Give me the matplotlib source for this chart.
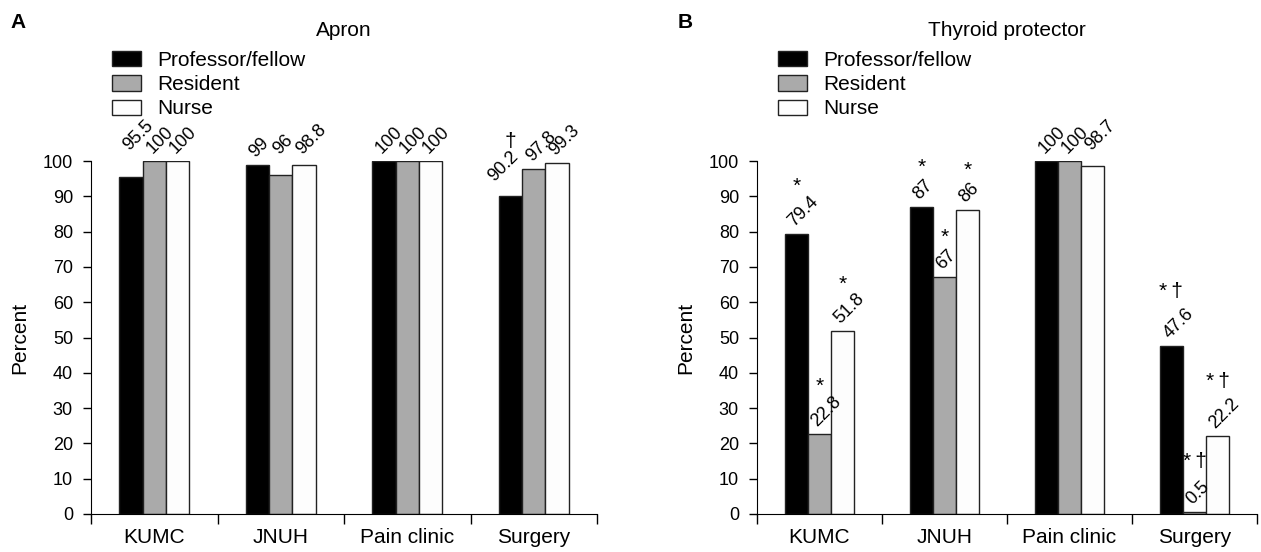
import numpy as np
import matplotlib
matplotlib.use("Agg")
import matplotlib.pyplot as plt
from matplotlib.patches import Patch

plt.rcParams["font.family"] = ["Liberation Sans", "DejaVu Sans"]

# =========================
# DATA
# =========================

sites = ["KUMC", "JNUH", "Pain clinic", "Surgery"]
groups = ["Professor/fellow", "Resident", "Nurse"]

apron_prof = [95.5, 99, 100, 90.2]
apron_res = [100, 96, 100, 97.8]
apron_nurse = [100, 98.8, 100, 99.3]
apron_marks_prof = ["", "", "", "\u2020"]
apron_marks_res = ["", "", "", ""]
apron_marks_nurse = ["", "", "", ""]

thyroid_prof = [79.4, 87, 100, 47.6]
thyroid_res = [22.8, 67, 100, 0.5]
thyroid_nurse = [51.8, 86, 98.7, 22.2]
thyroid_marks_prof = ["*", "*", "", "*\u2009\u2020"]
thyroid_marks_res = ["*", "*", "", "*\u2009\u2020"]
thyroid_marks_nurse = ["*", "*", "", "*\u2009\u2020"]

colors = ["#000000", "#aaaaaa", "#fdfdfd"]
bar_w = 0.185
px = 72 / 100  # points per pixel


def fmt(v):
    return ("%g" % v)


def draw_panel(ax, series, marks, title, letter, letter_x):
    x = np.arange(len(sites)) + 0.5
    data = np.array(series)
    for i, (vals, mk) in enumerate(zip(series, marks)):
        xs = x + (i - 1) * bar_w
        ax.bar(xs, vals, width=bar_w, color=colors[i],
               edgecolor="#222222", linewidth=1.0, zorder=2)
        for j, (xx, v, m) in enumerate(zip(xs, vals, mk)):
            lab = fmt(v)
            col = data[:, j]
            # labels of a tight group sit at the level of the tallest bar
            base = col.max() if col.max() - col.min() < 5 else v
            dx, dy = -2, 7
            if base > v:
                dy = 10
            # first bar beaten by its neighbour: label moved aside
            if i == 0 and col[1] - v > 5:
                dx, dy = -16, 14
            ax.annotate(lab, (xx, base), xytext=(dx * px, dy * px),
                        textcoords="offset points", rotation=45,
                        rotation_mode="anchor", ha="left", va="baseline",
                        fontsize=13, annotation_clip=False, zorder=4)
            if m:
                if m == "*":
                    off = 33 + 3.5 * len(lab)
                else:
                    off = 40 + 3.5 * len(lab)
                ax.annotate(m, (xx, v), xytext=(0, off * px),
                            textcoords="offset points", ha="center",
                            va="center", fontsize=15,
                            annotation_clip=False, zorder=4)

    ax.set_xlim(0, len(sites))
    ax.set_ylim(0, 100)
    ax.set_yticks(np.arange(0, 101, 10))
    ax.set_xticks(np.arange(0, len(sites) + 1))
    ax.set_xticklabels([])
    ax.set_xticks(x, minor=True)
    ax.set_xticklabels(sites, minor=True)
    ax.tick_params(axis="x", which="minor", length=0, pad=10, labelsize=15)
    ax.tick_params(axis="x", which="major", direction="out", length=7,
                   width=1)
    ax.tick_params(axis="y", direction="out", length=6, width=1,
                   labelsize=13, pad=7)
    ax.spines["top"].set_visible(False)
    ax.spines["right"].set_visible(False)
    ax.set_ylabel("Percent", fontsize=15, labelpad=10)

    fig = ax.figure
    bb = ax.get_position()
    fig.text((bb.x0 + bb.x1) / 2, 1 - 30 / 552, title,
             ha="center", va="center", fontsize=15)
    fig.text(letter_x, 1 - 22 / 552, letter, ha="left", va="center",
             fontsize=15, fontweight="bold")

    handles = [Patch(facecolor=c, edgecolor="#222222", linewidth=1.0)
               for c in colors]
    ax.legend(handles, groups, loc="upper left",
              bbox_to_anchor=((bb.x0 + 21 / 1261), 1 - 51 / 552),
              bbox_transform=fig.transFigure, frameon=False, fontsize=15,
              handlelength=1.4, handleheight=0.75, handletextpad=0.75,
              labelspacing=0.25, borderaxespad=0, borderpad=0)


# =========================
# FIGURE
# =========================

fig = plt.figure(figsize=(12.61, 5.52), dpi=100)

ax_a = fig.add_axes([91 / 1261, 1 - 514 / 552, 506 / 1261, 353 / 552])
ax_b = fig.add_axes([757 / 1261, 1 - 514 / 552, 500 / 1261, 353 / 552])

draw_panel(ax_a, [apron_prof, apron_res, apron_nurse],
           [apron_marks_prof, apron_marks_res, apron_marks_nurse],
           "Apron", "A", 10 / 1261)
draw_panel(ax_b, [thyroid_prof, thyroid_res, thyroid_nurse],
           [thyroid_marks_prof, thyroid_marks_res, thyroid_marks_nurse],
           "Thyroid protector", "B", 678 / 1261)

fig.savefig("out.png", dpi=100)
